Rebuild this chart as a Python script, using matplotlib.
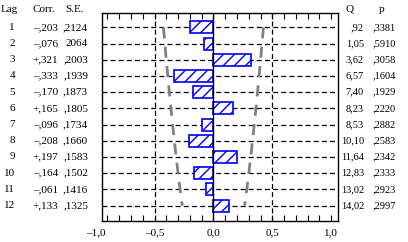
import matplotlib.pyplot as plt
import numpy as np

lags = [1, 2, 3, 4, 5, 6, 7, 8, 9, 10, 11, 12]
corr = [-0.203, -0.076, 0.321, -0.333, -0.170, 0.165, -0.096, -0.208, 0.197, -0.164, -0.061, 0.133]
se = [0.2124, 0.2064, 0.2003, 0.1939, 0.1873, 0.1805, 0.1734, 0.1660, 0.1583, 0.1502, 0.1416, 0.1325]
se_text = [",2124", "2064", ",2003", ",1939", ",1873", ",1805", ",1734", ",1660", ",1583", ",1502", ",1416", ",1325"]
q_stat = [",92", "1,05", "3,62", "6,57", "7,40", "8,23", "8,53", "10,10", "11,64", "12,83", "13,02", "14,02"]
p_val = [",3381", ",5910", ",3058", ",1604", ",1929", ",2220", ",2882", ",2583", ",2342", ",2333", ",2923", ",2997"]
x_labels = ["–1,0", "–0,5", "0,0", "0,5", "1,0"]
x_label_pos = [-1.0, -0.5, 0.0, 0.5, 1.0]

plt.rcParams["font.family"] = "Liberation Serif"
FS = 8
FS_RIGHT = 7.5

fig = plt.figure(figsize=(4.08, 2.42), dpi=100)
ax = fig.add_axes([0.249, 0.0868, 0.58, 0.8607])

ax.set_xlim(-0.95, 1.06)
ax.set_ylim(12.95, 0.1)

# row guide lines and reference verticals
for lag in lags:
    ax.axhline(lag, color="black", lw=0.9, ls=(0, (4, 2.5)), zorder=1)
for xv in (-0.5, 0.5):
    ax.axvline(xv, color="black", lw=0.9, ls=(0, (4, 2.5)), zorder=1)

# confidence limits (+/- 2 S.E.)
conf = 2 * np.array(se)
ax.plot(-conf, lags, color="#808080", lw=2, ls=(0, (4, 3)), zorder=2)
ax.plot(conf, lags, color="#808080", lw=2, ls=(0, (4, 3)), zorder=2)

ax.barh(lags, corr, height=0.74, left=0, color="white", edgecolor="#0000ff",
        hatch="///", lw=1.2, zorder=3)
ax.axvline(0, color="black", lw=1, zorder=4)

ax.set_yticks([])
ax.set_xticks(np.round(np.arange(-0.9, 1.01, 0.1), 2))
ax.tick_params(axis="x", direction="in", top=True, bottom=True, length=4,
               width=0.8, labelbottom=False)
for sp in ax.spines.values():
    sp.set_linewidth(1)

# x labels placed through the data scale (-1,0 sits just outside the frame)
xform = ax.get_xaxis_transform()
for pos, lab in zip(x_label_pos, x_labels):
    ax.text(pos, -0.055, lab, transform=xform, ha="center", va="center",
            fontsize=FS, clip_on=False)

# column headers
head_y = 1 - 9 / 242
fig.text(1 / 408, head_y, "Lag", fontsize=FS, va="center", ha="left")
fig.text(44 / 408, head_y, "Corr.", fontsize=FS, va="center", ha="center")
fig.text(75 / 408, head_y, "S.E.", fontsize=FS, va="center", ha="center")
fig.text(350 / 408, head_y, "Q", fontsize=FS, va="center", ha="center")
fig.text(382 / 408, head_y, "p", fontsize=FS, va="center", ha="center")

# table rows, aligned with the lag rows of the axes
for i, lag in enumerate(lags):
    c = corr[i]
    c_txt = ("+" if c > 0 else "–") + f"{abs(c):.3f}"[1:].replace(".", ",")
    yy = ax.transData.transform((0, lag))[1] / fig.bbox.height
    fig.text(15 / 408, yy, str(lag), fontsize=FS, va="center", ha="right")
    fig.text(58 / 408, yy, c_txt, fontsize=FS, va="center", ha="right")
    fig.text(88 / 408, yy, se_text[i], fontsize=FS, va="center", ha="right")
    fig.text(364 / 408, yy, q_stat[i], fontsize=FS_RIGHT, va="center", ha="right")
    fig.text(396 / 408, yy, p_val[i], fontsize=FS_RIGHT, va="center", ha="right")

fig.savefig("out.png", dpi=100)
